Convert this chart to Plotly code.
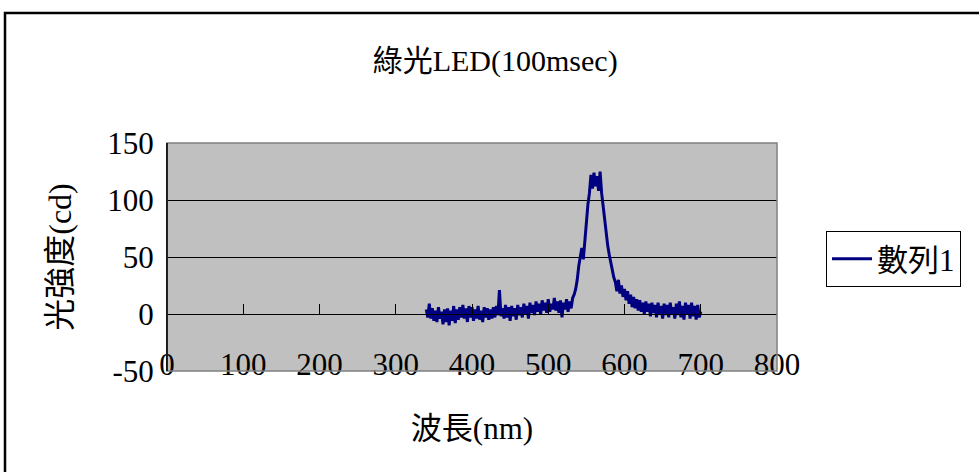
import plotly.graph_objects as go

title_text = "綠光LED(100msec)"
x_title = "波長(nm)"
y_title = "光強度(cd)"
series_name = "數列1"

x_ticks = [0, 100, 200, 300, 400, 500, 600, 700, 800]
y_ticks = [-50, 0, 50, 100, 150]

wavelength = list(range(340, 702, 2))
intensity = [
    4, -3, 9, -4, 5, -6, 3, -7, 6, -4,
    2, -9, 4, -7, 5, -10, 3, -6, 7, -8,
    4, -5, 6, -3, 8, -4, 5, -7, 7, -3,
    6, -6, 4, -4, 7, -5, 3, -7, 6, -3,
    5, -5, 4, -4, 6, -3, 7, -1, 21, -2,
    5, -4, 8, -3, 6, -6, 7, -2, 5, -5,
    8, -1, 6, -3, 9, 0, 7, -4, 10, 1,
    8, -1, 11, 2, 9, 0, 12, 3, 10, 1,
    13, 2, 9, 4, 14, 3, 11, 1, 12, -3,
    10, 4, 13, 2, 11, 5, 14, 17, 22, 30,
    42, 52, 58, 48, 66, 84, 96, 106, 122, 110,
    124, 112, 121, 108, 125, 106, 94, 80, 72, 60,
    52, 44, 38, 32, 28, 20, 30, 18, 25, 15,
    22, 12, 20, 9, 17, 6, 15, 5, 13, 3,
    12, 2, 10, 0, 11, 2, 9, -2, 10, 1,
    8, -3, 10, 0, 7, -4, 9, -1, 8, -3,
    10, 0, 6, -4, 9, -1, 11, -3, 7, -5,
    10, 0, 8, -4, 10, -2, 7, -5, 8, -3,
    2,
]

FONT = "Liberation Serif, Noto Sans CJK TC, serif"
LINE_COLOR = "#000080"

fig = go.Figure()
fig.add_trace(go.Scatter(
    x=wavelength, y=intensity, mode="lines", name=series_name,
    line=dict(color=LINE_COLOR, width=3), xaxis="x", yaxis="y",
))
# duplicate on the overlay axis (carries the x-axis line at y=0), hidden
fig.add_trace(go.Scatter(
    x=wavelength, y=intensity, mode="lines", showlegend=False,
    line=dict(color=LINE_COLOR, width=3), opacity=0, hoverinfo="skip",
    xaxis="x2", yaxis="y",
))

axis_font = dict(family=FONT, size=31, color="black")

fig.update_layout(
    width=979, height=472,
    margin=dict(l=167, r=202, t=143, b=101, autoexpand=False),
    paper_bgcolor="white",
    plot_bgcolor="#c0c0c0",
    font=dict(family=FONT, color="black"),
    title=dict(text=title_text, x=0.538, xref="paper", xanchor="center",
               y=1 - 60 / 472, yref="container", yanchor="middle",
               font=dict(family=FONT, size=30, color="black")),
    xaxis=dict(range=[0, 800], tickvals=x_ticks, ticktext=[str(v) for v in x_ticks],
               showgrid=False, zeroline=False, showline=False, ticks="",
               tickfont=axis_font, ticklabelstandoff=-28,
               title=dict(text=x_title, font=dict(family=FONT, size=31), standoff=36)),
    xaxis2=dict(range=[0, 800], overlaying="x", anchor="free", position=0.25, side="bottom",
                tickvals=x_ticks, showticklabels=False, showgrid=False, zeroline=False,
                showline=True, linecolor="black", linewidth=1,
                ticks="inside", ticklen=10, tickcolor="black", tickwidth=1),
    yaxis=dict(range=[-50, 150], tickvals=y_ticks, ticktext=[str(v) for v in y_ticks],
               showgrid=True, gridcolor="black", gridwidth=1,
               zeroline=False, showline=True, linecolor="black", linewidth=1,
               ticks="inside", ticklen=10, tickcolor="black", tickwidth=1,
               tickfont=axis_font, ticklabelstandoff=6,
               title=dict(text=y_title, font=dict(family=FONT, size=32), standoff=26)),
    legend=dict(x=1.0803, xanchor="left", y=0.614, yanchor="top",
                bgcolor="white", bordercolor="black", borderwidth=1,
                font=dict(family=FONT, size=31, color="black"),
                itemwidth=40),
    showlegend=True,
    shapes=[
        # plot-area border (grey)
        dict(type="rect", xref="paper", yref="paper", x0=0, x1=1, y0=0, y1=1,
             line=dict(color="#808080", width=1.5), layer="above"),
        # left axis line redrawn black
        dict(type="line", xref="paper", yref="paper", x0=0, x1=0, y0=0, y1=1,
             line=dict(color="black", width=1.5), layer="above"),
        # outer chart frame
        dict(type="rect", xref="paper", yref="paper",
             x0=(5 - 167) / 610, x1=1.5, y0=-1, y1=(371 - 13) / 228,
             line=dict(color="black", width=2.5), layer="below"),
    ],
)

fig.write_html("out.html")
